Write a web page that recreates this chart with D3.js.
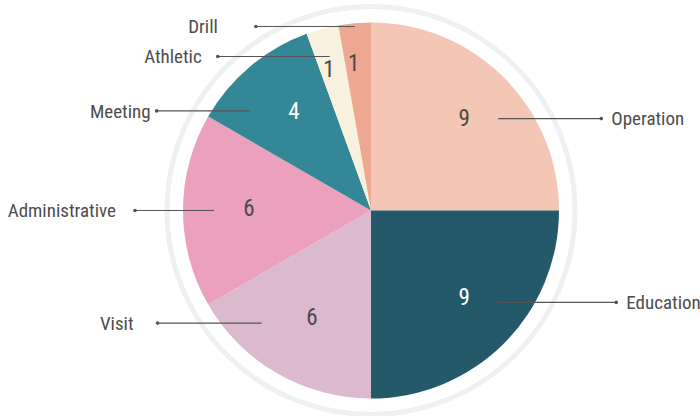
<!DOCTYPE html>
<html>
<head>
<meta charset="utf-8">
<script src="https://cdn.jsdelivr.net/npm/d3@7"></script>
<style>
  html, body { margin: 0; padding: 0; background: #fff; }
  svg text { font-family: "Roboto Condensed", "Liberation Sans Narrow", "DejaVu Sans Condensed", Roboto, sans-serif; font-stretch: condensed; }
</style>
</head>
<body>
<svg id="chart" width="700" height="416"></svg>
<script>
// Activity counts by category, clockwise from 12 o'clock
const categories = ["Operation", "Education", "Visit", "Administrative", "Meeting", "Athletic", "Drill"];
const counts     = [9, 9, 6, 6, 4, 1, 1];
const colors     = ["#f3c6b5", "#24596a", "#dbbad0", "#eba1bd", "#348796", "#f8f1dd", "#eea892"];
const valueInk   = ["#4a4a4a", "#ffffff", "#4a4a4a", "#4a4a4a", "#ffffff", "#4a4a4a", "#4a4a4a"];

// Leader line length and gap between dot and category text
const leader = {
  Operation:      { len: 103, gap: 10 },
  Education:      { len: 118, gap: 10 },
  Visit:          { len: 104, gap: 24 },
  Administrative: { len: 79,  gap: 19 },
  Meeting:        { len: 93,  gap: 6 },
  Athletic:       { len: 112, gap: 16 },
  Drill:          { len: 99,  gap: 38 }
};

const cx = 371, cy = 210.5, R = 188;
const ringR = 204;

const svg = d3.select("#chart");
const g = svg.append("g").attr("transform", `translate(${cx},${cy})`);

// Soft outer ring
g.append("circle")
  .attr("r", ringR)
  .attr("fill", "none")
  .attr("stroke", "#edf1f4")
  .attr("stroke-width", 5);

const data = categories.map((c, i) => ({ name: c, value: counts[i], color: colors[i], ink: valueInk[i] }));
const pie = d3.pie().value(d => d.value).sort(null);
const arcs = pie(data);
const arc = d3.arc().innerRadius(0).outerRadius(R);

g.selectAll("path.slice")
  .data(arcs)
  .join("path")
  .attr("class", "slice")
  .attr("d", arc)
  .attr("fill", d => d.data.color);

const thin = d => (d.endAngle - d.startAngle) < Math.PI / 12;
const mid = d => (d.startAngle + d.endAngle) / 2;

// Value labels inside the slices (thin slices: further out, nudged counter-clockwise)
const valueAngle = d => mid(d) - (thin(d) ? 0.06 : 0);
const valueRadius = d => thin(d) ? 146 : 126;
g.selectAll("text.value")
  .data(arcs)
  .join("text")
  .attr("class", "value")
  .attr("x", d => Math.sin(valueAngle(d)) * valueRadius(d) + 4)
  .attr("y", d => -Math.cos(valueAngle(d)) * valueRadius(d) - 3)
  .attr("dy", "0.35em")
  .attr("text-anchor", "middle")
  .attr("font-size", 23)
  .attr("fill", d => d.data.ink)
  .text(d => d.data.value);

// Leader anchors: wide slices follow the value row, thin slices stack from the top edge
const thinOrder = arcs.filter(thin).sort((a, b) => Math.abs(Math.sin(mid(a))) - Math.abs(Math.sin(mid(b))));
const anchors = arcs.map(d => {
  const a = mid(d);
  const side = Math.sin(a) >= 0 ? 1 : -1;
  let y, x;
  if (thin(d)) {
    const k = thinOrder.indexOf(d);
    y = -R + 4 + 30 * k;
    x = -y * Math.tan(a);
  } else {
    y = -Math.cos(a) * 130;
    x = side * Math.sqrt(157 * 157 - y * y);
  }
  const L = leader[d.data.name];
  const x2 = x + side * L.len;
  return { d, side, x, y, x2, tx: x2 + side * L.gap };
});

const lab = g.selectAll("g.leader").data(anchors).join("g").attr("class", "leader");
lab.append("line")
  .attr("x1", a => a.x).attr("y1", a => a.y)
  .attr("x2", a => a.x2).attr("y2", a => a.y)
  .attr("stroke", "#555").attr("stroke-width", 1.2);
lab.append("circle")
  .attr("cx", a => a.x2).attr("cy", a => a.y).attr("r", 1.8)
  .attr("fill", "#555");
lab.append("text")
  .attr("x", a => a.tx).attr("y", a => a.y)
  .attr("dy", "0.35em")
  .attr("text-anchor", a => a.side > 0 ? "start" : "end")
  .attr("font-size", 19)
  .attr("fill", "#4d4d4d")
  .text(a => a.d.data.name);
</script>
</body>
</html>
